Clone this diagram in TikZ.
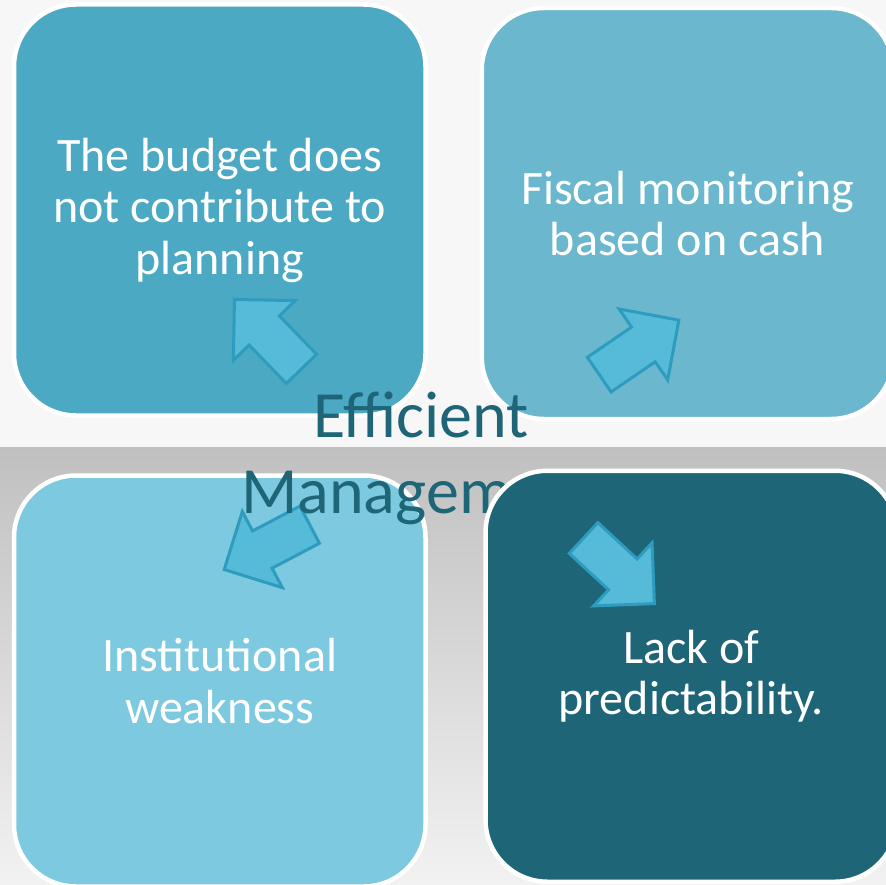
\documentclass[tikz,border=0pt]{standalone}
\usepackage{fontspec}
\setmainfont{Carlito}
\definecolor{bgtop}{HTML}{F7F7F7}
\definecolor{bgdark}{HTML}{C0C0C0}
\definecolor{bglight}{HTML}{F2F2F2}
\definecolor{boxA}{HTML}{4BA9C3}
\definecolor{boxB}{HTML}{6BB7CD}
\definecolor{boxC}{HTML}{7DC9DF}
\definecolor{boxD}{HTML}{1F6578}
\definecolor{arrowfill}{HTML}{55BBD9}
\definecolor{arrowline}{HTML}{2E9CBE}
\definecolor{titlecol}{HTML}{1F6578}
\begin{document}
\begin{tikzpicture}[x=1pt,y=-1pt,
  card/.style={draw=white, line width=4.5pt, rounded corners=62pt,
    minimum width=411.5pt, minimum height=411pt, inner sep=0pt,
    text=white, align=center, font=\fontsize{48}{51.5}\selectfont},
  blockarrow/.style={fill=arrowfill, draw=arrowline, line width=3pt, line join=miter},
  title/.style={text=titlecol, align=center, inner sep=0pt,
    font=\fontsize{66}{76}\selectfont}]
\useasboundingbox (0,0) rectangle (886,885);
\clip (0,0) rectangle (886,885);
% background
\fill[bgtop] (0,0) rectangle (886,447);
\shade[top color=bgdark, bottom color=bglight] (0,447) rectangle (886,885);
% cards
\node[card, fill=boxA] (tl) at (219.75,210) {The budget does\\not contribute to\\planning};
\node[card, fill=boxB] (tr) at (687.5,213.5) {Fiscal monitoring\\based on cash};
\node[card, fill=boxC] (bl) at (219.75,681) {Institutional\\weakness};
% arrows
\newcommand{\blockarrowpath}{(1.5,21) -- (55,21) -- (55,43) -- (98,0) -- (55,-43) -- (55,-21) -- (1.5,-21) -- cycle}
\begin{scope}[shift={(302.5,370)}, rotate=134]
  \draw[blockarrow] \blockarrowpath;
\end{scope}
\begin{scope}[shift={(598,375.5)}, rotate=34.4]
  \draw[blockarrow] \blockarrowpath;
\end{scope}
\begin{scope}[shift={(311,524)}, rotate=207.7]
  \draw[blockarrow] \blockarrowpath;
\end{scope}
% title
\node[title, anchor=base] (center) at (421,513) {Efficient\\Management};
% last card
\node[card, fill=boxD] (br) at (691.25,676.25) {Lack of\\predictability.};
\begin{scope}[shift={(582.5,537)}, rotate=-42.8]
  \draw[blockarrow] \blockarrowpath;
\end{scope}
\end{tikzpicture}
\end{document}
